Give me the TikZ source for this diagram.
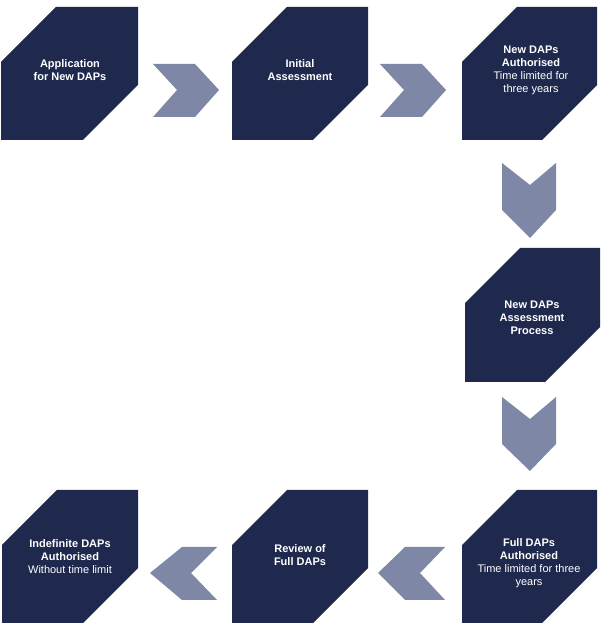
\documentclass[tikz,border=0pt]{standalone}
\usepackage{fontspec}
\setmainfont{Liberation Sans}
\definecolor{navy}{RGB}{30,41,77}
\definecolor{chev}{RGB}{126,135,166}
\tikzset{
  boxfill/.style={fill=navy},
  chevfill/.style={fill=chev},
  lbl/.style={text=white, align=center, font=\fontsize{11}{13}\selectfont, inner sep=0pt}
}
% hexagon box: L, R, T, B in image px (y down)
\newcommand{\hexbox}[4]{%
  \fill[boxfill] ({#1+55},{632-#3}) -- ({#2},{632-#3}) -- ({#2},{632-#4+55}) -- ({#2-55},{632-#4}) -- ({#1},{632-#4}) -- ({#1},{632-#3-55}) -- cycle;}
\begin{document}
\begin{tikzpicture}[x=1pt,y=1pt]
\useasboundingbox (0,0) rectangle (606,632);
\fill[white] (0,0) rectangle (606,632);
% boxes
\hexbox{1}{138}{7}{140}
\hexbox{232}{368}{7}{140}
\hexbox{462}{597}{7}{140}
\hexbox{465}{600}{248}{382}
\hexbox{462}{597}{490}{623}
\hexbox{232}{368}{490}{623}
\hexbox{2}{138}{490}{623}
% labels
\node[lbl] (b1) at (70,{632-70}) {\textbf{Application}\\\textbf{for New DAPs}};
\node[lbl] (b2) at (300,{632-70}) {\textbf{Initial}\\\textbf{Assessment}};
\node[lbl] (b3) at (531,{632-70}) {\textbf{New DAPs}\\\textbf{Authorised}\\Time limited for\\three years};
\node[lbl] (b4) at (532,{632-318}) {\textbf{New DAPs}\\\textbf{Assessment}\\\textbf{Process}};
\node[lbl] (b5) at (529,{632-563}) {\textbf{Full DAPs}\\\textbf{Authorised}\\Time limited for three\\years};
\node[lbl] (b6) at (300,{632-555}) {\textbf{Review of}\\\textbf{Full DAPs}};
\node[lbl] (b7) at (70,{632-557}) {\textbf{Indefinite DAPs}\\\textbf{Authorised}\\Without time limit};
% chevrons
\fill[chevfill] (153,{632-64}) -- (195,{632-64}) -- (219,{632-90}) -- (195,{632-117}) -- (153,{632-117}) -- (177,{632-90}) -- cycle;
\fill[chevfill] (380,{632-64}) -- (422,{632-64}) -- (446,{632-90}) -- (422,{632-117}) -- (380,{632-117}) -- (404,{632-90}) -- cycle;
\fill[chevfill] (502,{632-163}) -- (530,{632-185}) -- (556,{632-163}) -- (556,{632-210}) -- (530,{632-238}) -- (502,{632-210}) -- cycle;
\fill[chevfill] (502,{632-397}) -- (530,{632-419}) -- (556,{632-397}) -- (556,{632-444}) -- (530,{632-471}) -- (502,{632-444}) -- cycle;
\fill[chevfill] (150,{632-573}) -- (182,{632-547}) -- (217,{632-547}) -- (191,{632-573}) -- (217,{632-600}) -- (182,{632-600}) -- cycle;
\fill[chevfill] (378,{632-573}) -- (405,{632-547}) -- (445,{632-547}) -- (420,{632-573}) -- (445,{632-600}) -- (405,{632-600}) -- cycle;
\end{tikzpicture}
\end{document}
